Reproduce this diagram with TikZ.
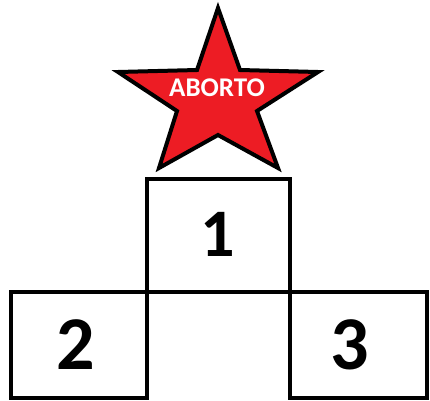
\documentclass[tikz,border=0pt]{standalone}
\usepackage{fontspec}
\setmainfont{Carlito}
\definecolor{starred}{RGB}{237,28,36}
\begin{document}
\begin{tikzpicture}[x=1pt,y=-1pt,
  boxstyle/.style={draw=black,line width=4.5pt},
  numstyle/.style={font=\bfseries\fontsize{76}{76}\selectfont,inner sep=0pt},
  starstyle/.style={fill=starred,draw=black,line width=4pt,line join=miter,miter limit=10}]
\useasboundingbox (0,0) rectangle (430,400);
\draw[starstyle] (218,8) -- (240,70) -- (318,72) -- (257,111) -- (278,168) -- (218,135)
  -- (159,168) -- (177,111) -- (118,72) -- (197,70) -- cycle;
\node[text=white,font=\bfseries\fontsize{27}{27}\selectfont,inner sep=0pt] (aborto) at (217,88) {ABORTO};
\draw[boxstyle] (147,179) rectangle (290,292);
\draw[boxstyle] (11,292) -- (147,292) -- (147,398) -- (11,398) -- cycle;
\draw[boxstyle] (290,292) -- (427,292) -- (427,398) -- (290,398) -- cycle;
\node[numstyle,font=\bfseries\fontsize{68}{68}\selectfont] (one) at (218,234) {1};
\node[numstyle] (two) at (76,345) {2};
\node[numstyle] (three) at (350,345) {3};
\end{tikzpicture}
\end{document}
